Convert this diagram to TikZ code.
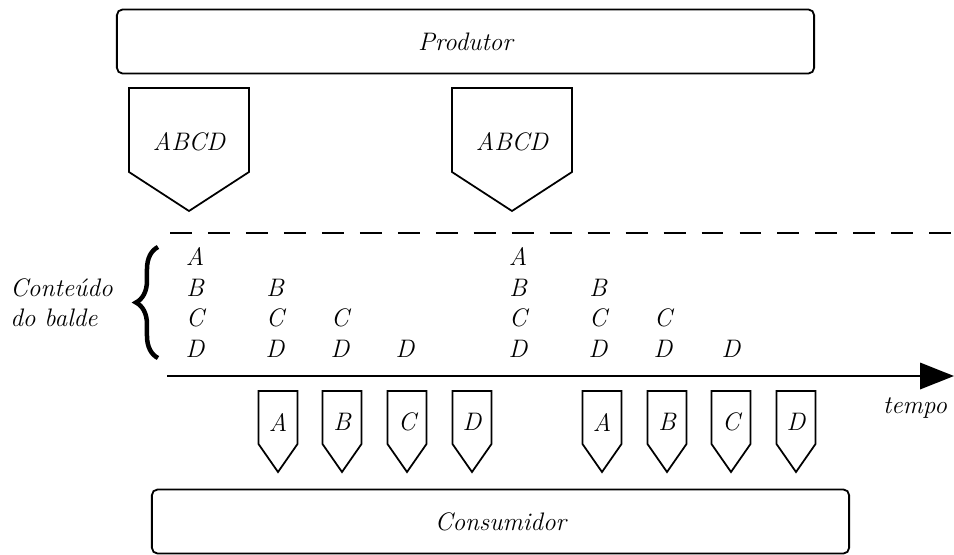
\documentclass[tikz,border=0pt]{standalone}
\usepackage{tikz}
\usetikzlibrary{arrows.meta,decorations.pathreplacing,positioning}

\tikzstyle{caixa} = [rectangle, draw, line width=1.3pt, rounded corners=4pt,
  minimum width=17.425cm, minimum height=1.6cm, inner sep=0pt,
  font=\itshape\fontsize{18}{21}\selectfont]
\tikzstyle{letra} = [inner sep=0pt, font=\itshape\fontsize{18}{21}\selectfont]
\tikzstyle{pacote} = [draw, line width=1.25pt, line join=miter]
\tikzstyle{chave} = [decorate, decoration={brace, amplitude=0.55cm}, line width=3.2pt]

\begin{document}
\begin{tikzpicture}[x=0.025cm, y=-0.025cm]
\useasboundingbox (0,0) rectangle (954,554);

\node [caixa] (produtor) at (465.5,41.5) {Produtor};
\node [caixa] (consumidor) at (500.5,521.5) {Consumidor};

% pacotes grandes do produtor
\foreach \x in {189,512} {
  \draw [pacote] (\x-60,88) -- (\x+60,88) -- (\x+60,172) -- (\x,211) -- (\x-60,172) -- cycle;
  \node [letra] (grande\x) at (\x,142) {ABCD};
}

% limite do balde
\draw [line width=1.3pt, dash pattern=on 15.6pt off 11.4pt] (170,233) -- (954,233);

% conteudo do balde ao longo do tempo (\k = primeira letra que resta)
\foreach \x/\k in {195/1, 275/2, 340/3, 405/4, 518/1, 598/2, 663/3, 731/4} {
  \foreach \l/\y [count=\i] in {A/256, B/288, C/318, D/349} {
    \ifnum\i<\k\relax\else
      \node [letra] (balde\x\l) at (\x,\y) {\l};
    \fi
  }
}

\draw [chave] (158,358) -- (158,247);
\node [letra, align=left, anchor=west, font=\itshape\fontsize{18}{21.5}\selectfont]
  (rotulo) at (10,303) {Conteúdo\\do balde};

% eixo do tempo
\coordinate (inicio) at (167,376);
\coordinate (fim) at (954,376);
\draw [line width=1.6pt, -{Triangle[length=0.85cm,width=0.66cm]}] (inicio) -- (fim);
\node [letra, anchor=base] (tempo) at (915,413) {tempo};

% pacotes pequenos para o consumidor
\foreach \x/\l in {278/A, 342/B, 407/C, 472/D, 602/A, 667/B, 731/C, 796/D} {
  \draw [pacote] (\x-19.5,391) -- (\x+19.5,391) -- (\x+19.5,444) -- (\x,472) -- (\x-19.5,444) -- cycle;
  \node [letra] (pequeno\x) at (\x,422) {\l};
}

\end{tikzpicture}
\end{document}
